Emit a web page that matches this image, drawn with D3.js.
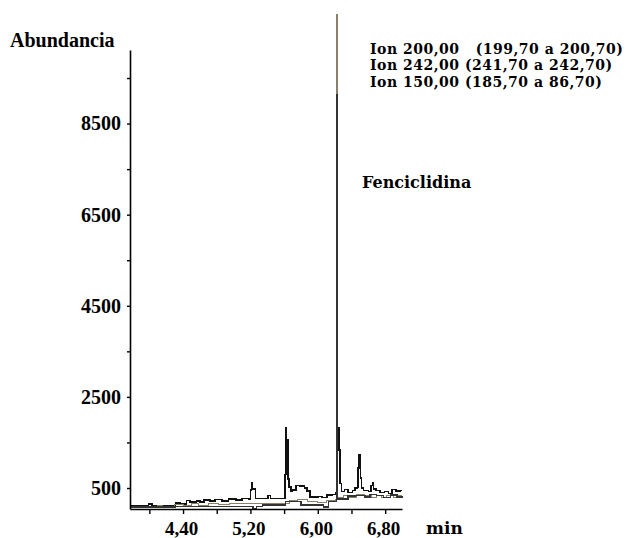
<!DOCTYPE html>
<html>
<head>
<meta charset="utf-8">
<script src="https://cdn.jsdelivr.net/npm/d3@7"></script>
<style>
  body { margin: 0; background: #fff; }
  svg { display: block; }
</style>
</head>
<body>
<svg id="chart"></svg>
<script>
// retention time (min) and abundance, step-after
let ion200 = [
  [3.77, 100], [3.89, 105], [3.99, 150], [4.03, 105], [4.19, 110], [4.31, 170],
  [4.37, 150], [4.44, 230], [4.48, 190], [4.56, 220], [4.60, 190], [4.65, 240],
  [4.72, 210], [4.78, 250], [4.86, 220], [4.94, 260], [5.03, 240], [5.10, 270],
  [5.18, 260], [5.20, 460], [5.21, 610], [5.225, 480], [5.26, 270], [5.34, 270],
  [5.41, 330], [5.44, 270], [5.60, 270], [5.61, 800], [5.62, 1817], [5.628, 1550],
  [5.645, 700], [5.66, 520], [5.68, 420], [5.70, 460], [5.74, 560], [5.79, 540],
  [5.84, 500], [5.87, 430], [5.91, 300], [6.00, 310], [6.05, 290], [6.11, 350],
  [6.17, 360], [6.21, 400], [6.22, 7590], [6.23, 1820], [6.25, 1330], [6.265, 600],
  [6.28, 420], [6.32, 470], [6.36, 400], [6.41, 440], [6.44, 500], [6.47, 520],
  [6.48, 940], [6.49, 1224], [6.50, 940], [6.51, 720], [6.52, 500], [6.54, 450],
  [6.60, 420], [6.63, 560], [6.65, 610], [6.66, 480], [6.69, 450], [6.74, 400],
  [6.79, 420], [6.84, 380], [6.88, 470], [6.93, 430], [6.98, 450], [7.0, 450]
];
let ion242 = [
  [3.77, 90], [3.95, 95], [4.10, 120], [4.16, 95], [4.30, 130], [4.40, 110],
  [4.50, 150], [4.58, 120], [4.70, 160], [4.82, 140], [4.95, 170], [5.08, 150],
  [5.20, 170], [5.26, 150], [5.40, 160], [5.60, 170], [5.66, 230], [5.76, 250],
  [5.88, 200], [6.00, 190], [6.10, 220], [6.21, 250], [6.22, 10904], [6.23, 300],
  [6.30, 330], [6.38, 300], [6.46, 360], [6.56, 330], [6.64, 300], [6.70, 340],
  [6.76, 290], [6.82, 330], [6.90, 300], [6.96, 340], [7.0, 340]
];
let ion150 = [
  [3.77, 80], [4.13, 80], [4.31, 100], [4.60, 90], [4.78, 100], [5.20, 95],
  [5.23, 40], [5.27, 100], [5.34, 130], [5.59, 130], [5.62, 210], [5.79, 200],
  [5.80, 127], [6.03, 127], [6.07, 85], [6.13, 200], [6.21, 210], [6.22, 9126],
  [6.23, 260], [6.30, 260], [6.36, 320], [6.45, 340], [6.56, 300], [6.62, 360],
  [6.70, 330], [6.78, 290], [6.86, 350], [6.94, 300], [7.0, 320]
];

let traces = [
  { name: "Ion 200,00", data: ion200, color: "#111111", width: 1.5 },
  { name: "Ion 242,00", data: ion242, color: "#8a816b", width: 1 },
  { name: "Ion 150,00", data: ion150, color: "#333333", width: 1.4 }
];

let legendLines = [
  "Ion 200,00   (199,70 a 200,70)",
  "Ion 242,00 (241,70 a 242,70)",
  "Ion 150,00 (185,70 a 86,70)"
];

let yTicks = [500, 1500, 2500, 3500, 4500, 5500, 6500, 7500, 8500, 9500];
let yLabelled = [500, 2500, 4500, 6500, 8500];
let xTicks = [4.0, 4.4, 4.8, 5.2, 5.6, 6.0, 6.4, 6.8];
let xLabelled = [4.4, 5.2, 6.0, 6.8];

let width = 635;
let height = 538;

let svg = d3.select("#chart").attr("width", width).attr("height", height);

let x = d3.scaleLinear().domain([3.77, 7.0]).range([130, 402]);
let y = d3.scaleLinear().domain([39, 10115]).range([509, 50]);

let serif = "'Liberation Serif', 'Times New Roman', serif";
let wide = "'DejaVu Serif', serif";

// traces
let line = d3
  .line()
  .x(d => x(d[0]))
  .y(d => y(d[1]))
  .curve(d3.curveStepAfter);

svg
  .append("g")
  .selectAll("path")
  .data(traces)
  .join("path")
  .attr("d", d => line(d.data))
  .attr("fill", "none")
  .attr("stroke", d => d.color)
  .attr("stroke-width", d => d.width)
  .attr("shape-rendering", "crispEdges");

// y axis
let yAxis = svg
  .append("g")
  .attr("transform", "translate(130,0)")
  .call(
    d3
      .axisLeft(y)
      .tickValues(yTicks)
      .tickSize(3)
      .tickSizeOuter(0)
      .tickPadding(6)
      .tickFormat(d => (yLabelled.includes(d) ? d : ""))
  );
yAxis.select(".domain").attr("stroke-width", 1.6);
yAxis.selectAll(".tick line").attr("stroke-width", 1.4);
yAxis
  .selectAll("text")
  .attr("font-family", serif)
  .attr("font-weight", "bold")
  .attr("font-size", 20)
  .attr("dy", "0.32em")
  .attr("fill", "#000");

// x axis
let xAxis = svg
  .append("g")
  .attr("transform", "translate(0,509)")
  .call(
    d3
      .axisBottom(x)
      .tickValues(xTicks)
      .tickSize(5)
      .tickSizeOuter(0)
      .tickPadding(8)
      .tickFormat(d =>
        xLabelled.some(v => Math.abs(v - d) < 1e-6)
          ? d3.format(".2f")(d).replace(".", ",")
          : ""
      )
  );
xAxis.select(".domain").attr("stroke-width", 1.6);
xAxis.selectAll(".tick line").attr("stroke-width", 1.4);
xAxis
  .selectAll("text")
  .attr("font-family", serif)
  .attr("font-weight", "bold")
  .attr("font-size", 19)
  .attr("dx", -2)
  .attr("fill", "#000");

// titles
svg
  .append("text")
  .attr("x", 10)
  .attr("y", 47)
  .attr("font-family", serif)
  .attr("font-weight", "bold")
  .attr("font-size", 20)
  .text("Abundancia");

svg
  .append("text")
  .attr("x", 426)
  .attr("y", 534)
  .attr("font-family", wide)
  .attr("font-weight", "bold")
  .attr("font-size", 17)
  .text("min");

svg
  .append("text")
  .attr("x", 362)
  .attr("y", 188)
  .attr("font-family", wide)
  .attr("font-weight", "bold")
  .attr("font-size", 16)
  .text("Fenciclidina");

// legend
svg
  .append("g")
  .selectAll("text")
  .data(legendLines)
  .join("text")
  .attr("x", 370)
  .attr("y", (d, i) => 53.5 + i * 16.5)
  .attr("font-family", wide)
  .attr("font-weight", "bold")
  .attr("font-size", 14)
  .attr("letter-spacing", 0.5)
  .style("white-space", "pre")
  .text(d => d);
</script>
</body>
</html>
